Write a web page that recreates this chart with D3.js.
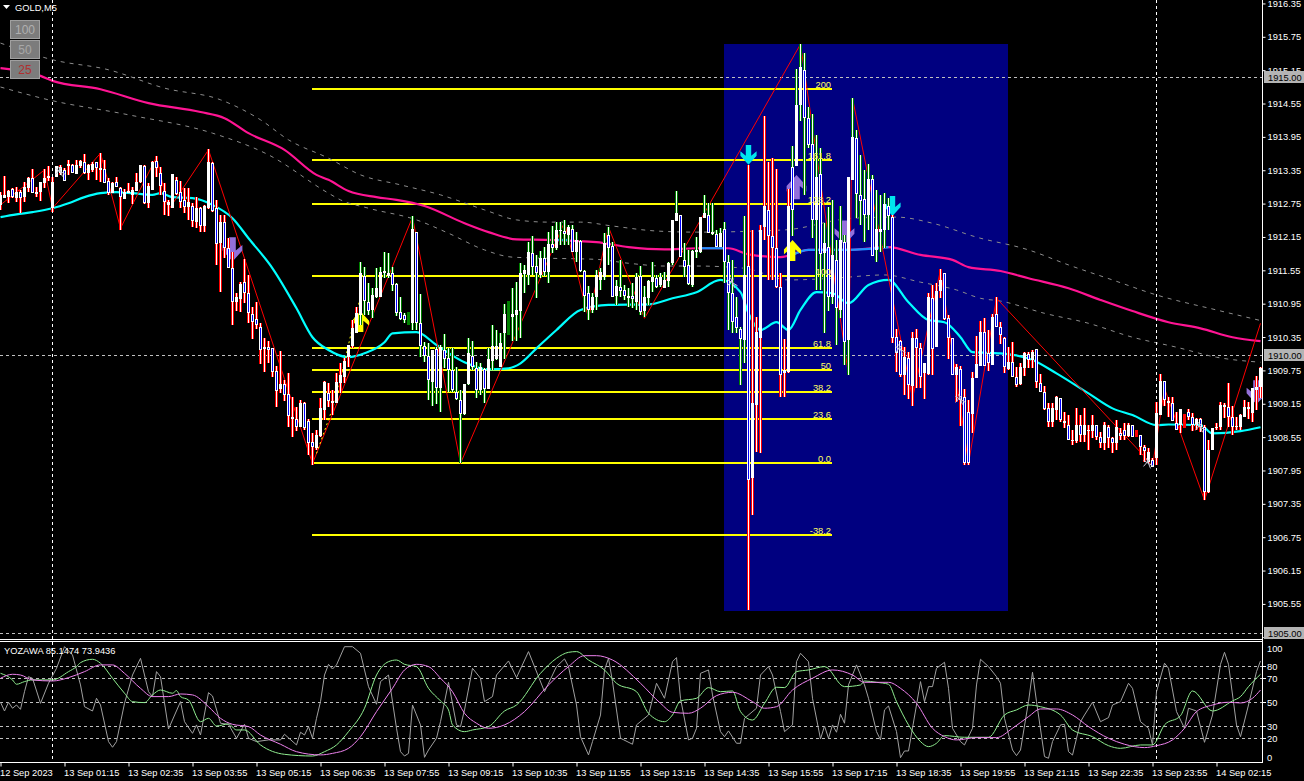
<!DOCTYPE html>
<html><head><meta charset="utf-8"><title>GOLD,M5</title>
<script src="https://cdn.jsdelivr.net/npm/d3@7"></script>
<style>html,body{margin:0;padding:0;background:#000;overflow:hidden}svg{display:block}text{font-family:"Liberation Sans",Arial,sans-serif;font-size:9.3px}</style>
</head><body><svg id="c" width="1304" height="781"></svg>
<script>
// prices are dollars above PRICE_BASE; one bar per 5 minutes
const PRICE_BASE=1900;
const high=[12.93,13.22,12.97,13.00,13.02,12.97,13.11,13.20,13.34,13.02,13.11,13.34,13.40,13.20,13.40,13.42,13.36,13.51,13.43,13.51,13.51,13.61,13.43,13.47,13.47,13.63,13.51,13.18,13.11,13.20,13.02,12.98,13.09,13.02,13.27,13.42,13.42,13.09,13.49,13.58,13.38,13.09,12.79,13.25,13.20,13.13,13.00,13.00,12.73,12.84,12.66,12.70,13.70,13.47,12.79,12.52,12.52,12.10,11.85,11.11,11.31,11.72,11.44,10.86,10.95,10.57,10.30,10.25,10.12,9.80,10.07,9.55,9.67,9.24,9.06,9.19,9.15,8.84,8.59,8.65,9.22,9.53,9.49,9.37,9.67,9.85,9.94,10.18,10.63,10.86,11.67,11.58,11.29,11.20,11.56,11.58,11.85,11.83,11.58,11.29,11.04,10.75,10.77,12.50,12.21,11.09,10.23,10.21,10.09,10.14,10.18,10.37,10.12,10.12,9.78,9.37,9.47,10.30,10.25,9.87,9.85,9.76,10.12,10.54,10.45,10.39,10.91,10.97,11.20,11.31,11.65,11.62,12.03,12.14,11.79,11.87,11.94,12.21,12.32,12.39,12.39,12.43,12.34,12.34,12.21,12.07,11.53,11.24,11.11,11.53,11.56,12.19,12.30,12.03,11.35,11.71,11.26,11.20,11.29,11.47,11.60,11.24,11.35,11.67,11.44,11.47,11.49,11.67,12.43,12.95,12.52,12.01,11.89,11.89,12.12,12.48,12.88,12.73,12.73,12.25,12.28,12.39,11.79,11.71,11.04,10.50,12.50,13.42,12.25,10.68,12.34,14.30,13.47,13.54,13.34,11.47,10.28,12.98,13.76,15.14,15.59,15.43,14.46,14.33,13.96,13.72,12.37,12.66,12.79,12.07,12.68,12.16,13.20,14.62,14.05,13.60,13.33,13.43,13.24,12.97,12.88,12.91,12.82,12.52,10.46,10.27,10.14,10.05,10.41,10.46,10.21,9.85,11.11,11.26,11.29,11.54,11.47,10.72,10.30,9.83,9.80,9.38,9.19,9.69,10.34,10.61,10.66,10.45,10.73,11.04,10.59,10.32,10.14,10.23,9.78,9.85,10.05,10.05,10.09,10.10,9.65,9.44,9.13,9.13,9.26,9.22,8.97,8.92,8.65,9.04,8.92,9.04,8.74,8.92,8.75,8.61,8.79,8.75,8.52,8.83,8.68,8.77,8.77,8.74,8.65,8.57,8.39,8.32,8.14,9.15,9.65,9.53,9.24,9.24,8.97,9.02,8.93,9.02,8.95,8.86,8.86,8.74,8.47,8.68,8.77,9.15,9.13,9.49,9.08,8.88,8.93,9.19,9.15,9.40,9.62,9.78];
const low=[12.61,12.82,12.73,12.82,12.75,12.55,12.75,12.93,12.91,12.84,12.77,13.00,13.13,12.57,13.20,13.24,13.13,13.24,13.27,13.25,13.36,13.25,13.15,13.29,13.15,13.11,13.09,12.88,12.91,13.02,12.25,12.80,12.91,12.71,12.95,13.09,12.71,12.64,12.97,13.20,12.88,12.52,12.50,12.64,12.88,12.64,12.55,12.43,12.30,12.28,12.21,12.21,12.62,12.57,11.62,11.13,11.74,11.56,10.54,10.79,10.77,10.93,10.57,10.28,10.46,9.83,9.69,9.85,9.60,9.06,9.31,9.17,8.70,8.52,8.63,8.70,8.66,8.20,8.02,8.29,8.52,8.83,9.06,8.92,9.13,9.31,9.49,9.78,10.12,10.39,10.54,10.72,10.72,10.66,11.02,11.06,11.38,11.38,11.15,10.70,10.63,10.57,10.54,10.45,10.45,9.96,9.87,9.19,9.08,9.11,8.97,9.76,9.33,9.33,9.19,8.05,8.92,9.46,9.73,9.22,9.28,9.13,9.40,9.73,9.91,9.78,9.92,10.36,10.25,10.25,10.30,11.11,11.26,11.44,11.02,11.38,11.42,11.29,11.83,11.89,11.98,11.98,11.98,11.85,11.67,11.49,10.77,10.63,10.75,10.81,11.17,11.35,11.62,11.04,10.90,11.04,10.99,10.86,10.84,10.81,10.72,10.68,10.90,11.13,11.20,11.22,11.20,11.22,11.62,12.43,11.76,11.40,11.26,11.22,11.74,11.83,12.46,12.19,12.16,11.94,11.94,11.29,10.45,10.39,10.39,9.46,9.85,5.41,7.12,8.25,8.23,12.07,11.35,11.35,11.20,9.24,9.24,9.67,12.14,13.40,14.21,12.88,13.72,12.10,11.17,11.17,10.39,10.79,10.91,10.18,10.66,9.82,9.64,13.15,12.46,12.34,12.03,12.25,11.78,11.67,11.85,11.92,12.25,10.21,9.69,9.60,9.28,9.20,9.08,9.40,9.40,9.20,9.64,9.64,10.14,11.02,10.63,9.92,9.64,9.15,8.72,8.02,8.02,8.59,9.58,9.80,9.80,9.71,9.82,10.50,10.19,9.67,9.73,9.60,9.42,9.46,9.62,9.76,9.76,9.40,9.33,9.01,8.70,8.70,8.83,8.79,8.68,8.47,8.39,8.41,8.43,8.43,8.30,8.50,8.48,8.32,8.30,8.32,8.23,8.29,8.47,8.47,8.52,8.52,8.52,8.20,8.07,8.05,7.98,8.02,8.92,9.08,8.88,8.81,8.65,8.59,8.68,8.83,8.63,8.65,8.61,7.39,7.51,8.29,8.65,8.65,8.86,8.70,8.56,8.66,8.66,8.88,8.84,8.79,9.01,9.22];
const open=[12.70,12.82,12.84,12.98,12.82,12.93,12.84,13.00,13.18,12.89,12.93,13.09,13.18,12.64,13.20,13.27,13.33,13.40,13.42,13.25,13.40,13.47,13.27,13.33,13.47,13.33,13.34,13.13,12.91,13.11,13.00,12.80,12.95,12.88,12.95,13.11,13.40,12.73,12.97,13.49,13.27,12.95,12.70,12.64,13.15,12.93,12.79,12.66,12.68,12.39,12.64,12.32,12.64,13.45,12.64,12.01,12.39,11.92,11.56,10.95,11.00,11.31,11.11,10.73,10.64,10.50,10.10,10.14,10.12,9.71,9.38,9.47,9.29,8.88,8.84,8.70,9.13,8.81,8.43,8.32,8.54,9.01,9.31,9.13,9.13,9.49,9.60,9.96,10.16,10.39,10.72,11.42,10.95,10.81,11.04,11.04,11.51,11.42,11.47,11.27,10.77,10.72,10.77,10.57,12.21,10.57,10.16,9.98,9.51,10.10,9.40,10.09,9.94,9.73,9.33,9.19,8.93,9.47,9.99,9.76,9.37,9.74,9.38,9.89,9.92,9.78,10.39,10.97,10.68,10.72,10.79,11.45,11.44,11.83,11.60,11.44,11.74,11.49,11.99,11.92,12.23,12.23,12.16,12.26,11.85,12.05,11.51,11.11,10.81,11.04,11.35,11.40,12.16,11.96,11.06,11.22,11.17,11.02,11.06,10.95,11.42,10.79,11.02,11.31,11.38,11.26,11.20,11.33,11.65,12.41,12.52,11.71,11.62,11.26,11.85,11.85,12.46,12.52,12.17,12.17,11.94,12.26,11.67,11.11,10.68,10.46,10.27,11.60,7.78,9.10,10.30,12.30,12.61,12.14,11.92,11.22,9.67,9.69,13.38,13.40,14.50,15.13,14.26,13.79,12.43,13.25,11.83,11.94,11.04,11.71,10.81,12.03,10.27,13.15,13.90,12.88,12.80,12.52,13.16,11.89,12.21,12.25,12.68,12.48,10.32,10.25,9.64,9.94,9.44,10.30,10.12,9.67,9.65,11.02,10.14,11.15,11.47,10.66,10.30,9.64,9.74,9.24,8.97,8.93,9.58,9.80,10.41,10.03,9.82,10.73,10.50,10.30,9.74,9.87,9.60,9.47,9.76,10.01,9.91,10.10,9.49,9.33,9.04,8.79,9.01,9.22,8.81,8.74,8.45,8.45,8.74,8.57,8.65,8.63,8.74,8.52,8.41,8.70,8.50,8.41,8.59,8.65,8.54,8.74,8.65,8.57,8.34,8.07,8.12,8.14,8.92,9.53,9.17,9.13,8.77,8.74,8.93,8.97,8.88,8.74,8.84,8.70,7.53,8.29,8.68,8.70,9.06,9.06,8.88,8.70,8.70,8.88,9.02,8.95,9.37,9.42];
const close=[12.88,12.88,12.95,12.84,12.93,12.82,13.02,13.18,12.91,12.93,13.11,13.18,13.22,13.11,13.40,13.38,13.13,13.43,13.27,13.42,13.49,13.27,13.42,13.43,13.36,13.36,13.09,12.91,13.09,13.02,12.84,12.93,12.91,12.97,13.11,13.42,12.73,13.04,13.47,13.36,13.04,12.75,12.75,13.25,12.89,12.75,12.66,12.75,12.41,12.64,12.32,12.68,13.47,12.59,11.99,12.39,11.92,11.56,10.95,11.04,11.27,11.11,10.75,10.59,10.54,10.09,10.14,10.09,9.69,9.35,9.47,9.28,8.90,8.84,8.70,9.13,8.68,8.41,8.34,8.56,9.04,9.51,9.17,9.17,9.51,9.64,9.89,10.18,10.48,10.75,11.47,10.97,10.79,11.08,11.20,11.49,11.47,11.47,11.26,10.75,10.64,10.63,10.54,12.26,10.57,10.16,9.98,9.55,10.09,9.40,10.14,9.92,9.73,9.37,9.20,8.93,9.47,10.03,9.78,9.37,9.78,9.38,9.92,10.16,10.16,10.21,10.73,10.36,10.73,10.81,11.47,11.53,11.85,11.58,11.47,11.74,11.49,11.99,11.92,12.25,12.25,12.17,12.30,11.85,12.07,11.51,11.06,10.81,11.04,11.44,11.49,12.01,11.92,11.04,11.24,11.15,11.06,11.06,11.00,11.40,10.77,11.04,11.33,11.40,11.22,11.40,11.35,11.65,12.43,12.55,11.76,11.58,11.27,11.87,11.89,12.48,12.55,12.19,12.21,11.94,12.19,11.67,11.11,10.59,10.48,10.28,11.44,7.76,9.13,10.41,12.25,12.68,12.14,11.92,11.22,9.64,9.73,12.68,12.61,14.50,15.18,14.26,13.78,12.43,13.20,11.81,12.01,11.04,11.80,10.84,12.07,10.23,13.20,13.92,12.89,12.77,12.52,13.16,11.78,12.26,12.26,12.71,12.50,10.30,10.03,9.64,9.96,9.46,10.30,10.12,9.60,9.85,11.04,10.10,11.15,11.35,10.64,10.30,9.64,9.78,9.19,8.05,8.05,9.58,9.83,10.41,9.80,9.85,10.68,10.50,10.36,9.78,9.87,9.60,9.46,9.78,10.03,9.91,10.05,9.51,9.33,9.02,8.79,9.04,9.24,8.83,8.77,8.48,8.48,8.74,8.56,8.74,8.66,8.74,8.52,8.41,8.74,8.50,8.41,8.70,8.54,8.54,8.74,8.52,8.52,8.34,8.27,8.25,7.98,8.95,9.53,9.19,9.13,8.81,8.66,9.02,8.68,8.88,8.74,8.84,8.70,7.53,8.30,8.68,8.70,9.10,9.10,8.88,8.70,8.72,8.92,9.06,9.06,9.40,9.42,9.76];
const greenWickRanges=[[90,186],[198,222]];
const solidGreenBars=[102,127];
const solidRedBars=[284,296];
const maIdx=[0,10,13,25,37,50,56,62,71,79,82,87,94,99,106,116,122,129,137,149,157,166,174,182,187,195,202,212,222,230,238,242,250,257,267,275,283,292,300,308,315];
const maVal=[15.16,15.02,14.93,14.78,14.53,14.37,14.26,13.99,13.69,13.24,13.15,12.95,12.84,12.79,12.68,12.37,12.21,12.08,12.07,12.03,11.94,11.90,11.92,11.92,11.81,11.76,11.89,11.89,11.94,11.80,11.71,11.58,11.51,11.38,11.20,10.99,10.79,10.59,10.48,10.32,10.25];
const maBlueIdx=[[139,142],[175,181],[197,202,212,222]];
const maBlueVal=[[12.07,12.07],[11.92,11.92],[11.76,11.89,11.89,11.94]];
const fastIdx=[0,4,8,13,17,21,25,29,33,38,40,43,48,53,58,62,68,74,78,82,87,91,96,98,104,109,116,122,127,130,134,139,145,152,162,168,174,180,185,187,190,194,197,200,204,208,212,217,222,227,232,236,240,243,250,258,264,272,278,283,289,292,300,303,310,315];
const fastVal=[12.48,12.53,12.57,12.64,12.73,12.84,12.91,12.93,12.91,12.88,12.91,12.84,12.82,12.70,12.46,12.10,11.56,10.84,10.32,10.09,9.96,10.03,10.23,10.39,10.41,10.18,9.87,9.74,9.76,9.85,10.12,10.45,10.81,10.90,10.91,11.02,11.13,11.35,11.13,10.75,10.45,10.59,10.45,10.81,11.13,11.11,10.93,11.26,11.35,10.95,10.63,10.59,10.32,10.05,10.03,9.91,9.67,9.31,9.04,8.92,8.74,8.75,8.74,8.59,8.63,8.70];
const upperIdx=[0,13,27,41,55,65,72,82,90,100,110,121,129,137,145,153,164,174,196,213,224,233,244,257,267,278,289,304,315];
const upperVal=[15.61,15.31,15.13,14.80,14.59,14.23,13.87,13.54,13.24,13.06,12.88,12.61,12.43,12.39,12.39,12.32,12.23,12.21,12.25,12.46,12.48,12.37,12.12,11.89,11.62,11.35,11.08,10.81,10.62];
const lowerIdx=[0,12,32,53,67,82,85,92,104,112,121,128,137,149,157,166,174,186,197,208,221,230,239,245,250,261,272,283,294,304,315];
const lowerVal=[14.82,14.59,14.32,13.99,13.60,12.91,12.79,12.64,12.43,12.19,11.89,11.76,11.74,11.72,11.65,11.60,11.60,11.56,11.35,11.38,11.44,11.31,11.17,11.02,10.97,10.75,10.57,10.32,10.14,9.96,9.87];
const zigIdx=[0,11,13,25,30,39,42,52,78,103,115,141,147,152,161,200,212,213,228,235,242,249,285,288,291,301,315];
const zigVal=[12.70,13.33,12.64,13.63,12.28,13.56,12.61,13.69,8.05,12.48,8.05,12.39,10.66,12.30,10.66,15.59,9.64,14.62,9.22,11.53,8.05,11.02,8.25,8.00,9.40,7.39,10.57];
const dotIdx=[79,84,88,90];
const dotVal=[8.23,9.24,10.50,11.04];
const fibLevels=[200,161.8,138.2,100,61.8,50,38.2,23.6,0,-38.2];
const fibLabels=["200","161.8","138.2","100","61.8","50","38.2","23.6","0.0","-38.2"];
const fibStart=78, fibEnd=208, fibLow=8.05, fibHigh=11.42;
const boxStart=181, boxEnd=252, boxTop=15.60, boxBottom=5.41;
const hLevels=[15,10,5];
const hLevelLabels=["1915.00","1910.00","1905.00"];
const vLineIdx=[13,289];
const arrowUpYellow=[[90,10.6],[198,11.88]];
const arrowUpPurple=[[199,13.02]];
const arrowDownPurple=[[58,11.9],[211,12.2],[314,9.33]];
const arrowDownCyan=[[187,13.6],[223,12.68]];
const smallMarkIdx=[15,183,225,240,287,300];
const smallMarkVal=[13.30,11.30,10.10,9.20,8.05,8.70];
const priceTicks=[16.35,15.75,15.15,14.55,13.95,13.35,12.75,12.15,11.55,10.95,10.35,9.75,9.15,8.55,7.95,7.35,6.75,6.15,5.55,4.95];
const timeTickIdx=[0,16,32,48,64,80,96,112,128,144,160,176,192,208,224,240,256,272,288,304];
const timeLabels=["12 Sep 2023","13 Sep 01:15","13 Sep 02:35","13 Sep 03:55","13 Sep 05:15","13 Sep 06:35","13 Sep 07:55","13 Sep 09:15","13 Sep 10:35","13 Sep 11:55","13 Sep 13:15","13 Sep 14:35","13 Sep 15:55","13 Sep 17:15","13 Sep 18:35","13 Sep 19:55","13 Sep 21:15","13 Sep 22:35","13 Sep 23:55","14 Sep 02:15"];
const oscLevels=[80,70,50,30,20];
const oscLabelVals=[100,80,70,50,30,20,0];
const rawIdx=[0,1,2,3,4,5,6,7,8,10,12,14,16,18,20,21,23,24,25,27,28,29,31,33,35,37,38,39,40,42,45,46,48,49,50,52,53,55,57,59,61,62,64,67,70,71,74,75,76,77,78,79,80,81,82,83,84,86,88,90,92,94,95,97,99,100,101,102,103,105,106,107,109,110,112,114,115,116,118,120,121,123,124,127,129,132,136,139,141,142,144,145,147,148,150,151,152,153,155,158,159,162,164,166,168,169,170,172,173,174,175,177,178,180,181,182,184,185,186,189,190,192,193,195,196,198,199,200,202,203,205,206,207,208,209,210,211,212,214,216,217,219,220,221,222,224,225,226,227,229,230,231,232,233,234,236,237,238,240,241,243,244,245,247,249,250,251,253,254,255,257,258,259,261,262,263,265,266,267,268,270,271,273,275,277,278,280,282,283,285,287,288,289,291,292,294,296,297,299,301,303,305,306,307,309,310,312,314,315];
const rawVal=[49.8,42.5,49.8,44.8,47.5,43.9,58.6,71.1,69.8,48.9,65.6,78.1,96.1,89.2,64.2,46.1,42.5,53.1,47.5,17,12.3,17,48.9,72.5,86.4,58.6,54.5,75.3,71.1,27.5,50.3,33.6,23.9,30.9,22.5,57.8,55,32.3,31.4,19.8,31.4,19.8,17,18.4,18.4,23.1,14.2,24.8,22.5,29.5,19.8,36.4,50.3,72.5,81.4,77.5,80.9,96.1,96.1,90.6,62.8,48.1,67,72.5,28.1,8.6,5,7.2,47.5,30.9,3.9,10,19.8,33.6,66.4,30.9,29.5,43.4,78.1,69.8,50.3,54.5,72.5,84.2,70.3,92,58.6,79.5,85.9,79.5,47.5,21.1,5.9,17,39.2,76.7,86.4,67,19.8,14.8,30.9,39.2,65.6,53.1,83.6,87,53.1,18.4,19.8,28.1,73.9,76.7,55.9,25.3,21.1,25.9,15.6,15.6,36.4,44.8,72.5,79.5,72.5,42,25.3,30.9,83.6,90.6,83.6,53.1,19.2,30,19.8,30.9,24.8,39.8,32.3,64.2,80.9,64.2,53.1,25.3,18.4,43.4,46.7,25.3,3.6,9.2,9.2,47.5,67,50.3,62.8,62.8,78.1,83.1,61.4,28.1,17,14.2,28.1,64.2,85.6,79.5,71.1,65.6,36.4,10,5.3,10,50.3,74.8,50.3,4.5,3.1,17,30.9,31.4,8.6,5.8,33.6,39.2,49.8,33.6,37,47.5,50.3,65.6,61.4,33.6,28.1,14.2,58.6,82.3,78.1,42,28.1,44.8,42.5,16.4,39.2,81.4,91.4,81.4,30.9,21.1,47.5,75.3,84.2];
const greenIdx=[0,3,4,6,8,13,17,19,20,23,25,28,31,33,36,38,40,43,44,45,47,50,52,54,57,59,61,65,71,78,81,84,87,91,94,97,99,101,104,107,110,112,113,116,118,122,126,129,135,139,142,144,147,151,154,159,162,166,168,170,174,177,180,183,185,188,191,194,196,199,202,206,211,215,216,219,222,224,227,230,232,234,236,241,247,251,254,257,260,265,268,273,277,280,285,288,291,295,298,303,308,310,312,315];
const greenVal=[73.9,68.4,64.8,67,68.4,68.4,75.3,79.5,82.8,85.6,82.3,69.8,57.3,50.3,49.5,55.9,60,57.3,59.5,54.5,51.7,33.6,36.4,30,31.7,26.7,26.7,14.2,6.4,5,8.6,14.2,25.3,44.8,72.5,83.6,85,81.4,79.5,61.4,50.9,43.4,30.9,25.3,26.7,29.5,42.5,47.5,73.9,86.4,91.4,92,85,76.7,65.6,58.6,40.6,33.6,39.2,50.9,53.1,62,58.6,59.2,42,35,48.9,62.3,62,75.3,76.7,79.5,62.8,64.2,67.5,66.4,64.8,50.3,30.9,17,12.8,15.6,22,20.6,20.6,39.2,43.4,47.5,46.1,39.2,26.7,21.1,13.6,11.4,14.2,14.2,30.9,38.6,59.2,42.5,50.9,54.5,62.8,73.1];
const violetIdx=[0,3,5,8,13,17,21,25,28,31,35,38,42,45,48,52,55,58,62,65,70,74,80,83,87,90,94,98,101,104,107,110,113,116,119,122,126,131,137,142,146,149,153,160,165,168,172,175,179,183,188,191,194,198,203,208,213,216,222,225,229,233,236,239,244,249,253,257,260,264,268,272,277,281,286,289,293,296,299,303,307,310,313,315];
const violetVal=[69.8,73.1,72.5,68.4,67.5,70.3,75.3,80.9,80.9,73.9,61.4,54.5,54.5,56.7,55.9,46.1,36.4,31.4,29.5,22.5,14.8,8.6,5.9,7.2,11.4,21.1,42,61.4,76.7,81.4,79.5,69.8,58.6,40.6,32.3,28.1,30.9,42,64.2,79.5,88.6,88.6,85,65.6,48.9,41.4,40.6,44.8,55.3,58.1,50.3,44.8,46.1,60,69.8,76.7,72.5,66.4,66.4,61.4,48.9,28.1,21.1,18.4,20.3,20.3,28.1,37.8,44.2,44.2,39.2,29.5,19.8,14.8,12,13.6,18.4,28.1,42,47.5,49.8,49.2,53.1,60];

const svg=d3.select("#c");
const x=d3.scaleLinear().domain([0,315]).range([0.5,1260.5]);
const y=d3.scaleLinear().domain([PRICE_BASE+5,PRICE_BASE+15]).range([633,77]);
const yo=d3.scaleLinear().domain([0,100]).range([762,642]);
const P=v=>y(PRICE_BASE+v);
const defs=svg.append("defs");
defs.append("clipPath").attr("id","main").append("rect").attr("width",1262).attr("height",638);
defs.append("clipPath").attr("id","sub").append("rect").attr("y",642).attr("width",1262).attr("height",120);
defs.append("clipPath").attr("id","scale").append("rect").attr("x",1263).attr("width",41).attr("height",638);
const g=svg.append("g").attr("clip-path","url(#main)");
g.append("rect").attr("x",Math.floor(x(boxStart))).attr("y",Math.round(P(boxTop))).attr("width",Math.round(x(boxEnd)-x(boxStart))).attr("height",Math.round(P(boxBottom)-P(boxTop))).attr("fill","#000080");
g.selectAll(".hl").data(hLevels).join("line").attr("x1",0).attr("x2",1262).attr("y1",d=>Math.round(P(d))+.5).attr("y2",d=>Math.round(P(d))+.5).attr("stroke","#c0c0c0").attr("stroke-dasharray","3 3");
// Fibonacci
const fibY=l=>P(fibLow+(fibHigh-fibLow)*l/100);
g.selectAll(".fib").data(fibLevels).join("rect").attr("x",Math.floor(x(fibStart))).attr("width",x(fibEnd)-x(fibStart)).attr("y",d=>Math.round(fibY(d))-1).attr("height",2).attr("fill","#ffff00");
const lineOf=(xs,ys,sc,curve)=>d3.line().curve(curve||d3.curveLinear).x((d,i)=>x(xs[i])).y((d,i)=>sc(ys[i]))(ys);
const path=(p,xs,ys,sc,col,w,dash,curve)=>p.append("path").attr("d",lineOf(xs,ys,sc,curve)).attr("fill","none").attr("stroke",col).attr("stroke-width",w).attr("stroke-dasharray",dash||null);
const smooth=d3.curveMonotoneX;
path(g,upperIdx,upperVal,P,"#8c8c8c",1,"4 5",smooth);
path(g,lowerIdx,lowerVal,P,"#8c8c8c",1,"4 5",smooth);
path(g,maIdx,maVal,P,"#ff1493",2.2,null,smooth);
maBlueIdx.forEach((s,i)=>path(g,s,maBlueVal[i],P,"#1e90ff",2.2,null,smooth));
path(g,fastIdx,fastVal,P,"#00ffff",2.2,null,smooth);
path(g,zigIdx,zigVal,P,"#ff0000",1);
path(g,dotIdx,dotVal,P,"#ffff00",1,"2 3");
// arrows
const upShape="M0,-11L9,-1L9,4L3,-1L3,11L-3,11L-3,-1L-9,4L-9,-1Z";
const downShape="M-3,-11L3,-11L3,1L9,-4L9,1L0,11L-9,1L-9,-4L-3,1Z";
const arrow=(list,shape,col,sc)=>list.forEach(d=>g.append("path").attr("d",shape).attr("fill",col).attr("transform",`translate(${x(d[0])},${P(d[1])}) scale(${sc})`));
arrow(arrowUpYellow,upShape,"#ffff00",.95);
arrow(arrowUpPurple,upShape,"#9370db",1.1);
arrow(arrowDownPurple,downShape,"#9370db",1.1);
arrow(arrowDownCyan,downShape,"#00e5ee",.9);
// candles
const bars=d3.range(high.length);
const isGreen=i=>greenWickRanges.some(r=>i>=r[0]&&i<=r[1]);
const isSolid=i=>solidGreenBars.includes(i)||solidRedBars.includes(i);
const cg=g.append("g").attr("shape-rendering","crispEdges");
bars.forEach(i=>{
  const px=Math.floor(x(i)),t=Math.round(P(high[i])),b=Math.round(P(low[i]));
  const col=isGreen(i)?"#008000":"#ff0000";
  if(isSolid(i)){cg.append("rect").attr("x",px-1).attr("width",3).attr("y",t).attr("height",Math.max(1,b-t)).attr("fill",solidGreenBars.includes(i)?"#008000":"#ff0000");return;}
  cg.append("rect").attr("x",px-1).attr("width",3).attr("y",t).attr("height",Math.max(1,b-t)).attr("fill",col);
  cg.append("rect").attr("x",px).attr("width",1).attr("y",t).attr("height",Math.max(1,b-t)).attr("fill","#fff");
  const by=Math.round(P(Math.max(open[i],close[i]))),bb=Math.round(P(Math.min(open[i],close[i])));
  cg.append("rect").attr("x",px-1).attr("width",3).attr("y",by).attr("height",Math.max(1,bb-by)).attr("fill","#fff");
  if(close[i]<open[i]&&bb-by>2)cg.append("rect").attr("x",px).attr("width",1).attr("y",by+1).attr("height",bb-by-2).attr("fill","#0000ff");
});
// small marks
smallMarkIdx.forEach((d,i)=>g.append("path").attr("d","M-5,-3L5,3M-2,-5L2,5M-5,3L1,-4").attr("transform",`translate(${x(d)},${P(smallMarkVal[i])})`).attr("stroke","#c8c8d8").attr("fill","none"));
// full-height verticals
svg.selectAll(".vl").data(vLineIdx).join("line").attr("x1",d=>Math.floor(x(d))+.5).attr("x2",d=>Math.floor(x(d))+.5).attr("y1",0).attr("y2",763).attr("stroke","#fff").attr("stroke-dasharray","3 3");
// window frame
svg.append("rect").attr("x",0).attr("y",639).attr("width",1263).attr("height",1).attr("fill","#fff");
svg.append("rect").attr("x",0).attr("y",641).attr("width",1263).attr("height",1).attr("fill","#fff");
svg.append("rect").attr("x",0).attr("y",762).attr("width",1263).attr("height",1).attr("fill","#fff");
svg.append("rect").attr("x",1262).attr("y",0).attr("width",1).attr("height",763).attr("fill","#fff");
// oscillator
const so=svg.append("g").attr("clip-path","url(#sub)");
so.selectAll(".gl").data(oscLevels).join("line").attr("x1",0).attr("x2",1262).attr("y1",d=>Math.round(yo(d))+.5).attr("y2",d=>Math.round(yo(d))+.5).attr("stroke","#c0c0c0").attr("stroke-dasharray","3 3");
path(so,rawIdx,rawVal,yo,"#a0a0a0",1);
path(so,greenIdx,greenVal,yo,"#90ee90",1,null,smooth);
path(so,violetIdx,violetVal,yo,"#ee82ee",1,null,smooth);
// price axis
const priceAxis=d3.axisRight(y).tickValues(priceTicks.map(d=>PRICE_BASE+d)).tickFormat(d3.format(".2f")).tickSize(3).tickPadding(2);
const paInner=svg.append("g").attr("clip-path","url(#scale)").append("g").attr("transform","translate(1262.5,1.5)").call(priceAxis);
paInner.select(".domain").remove();
paInner.selectAll("line").attr("stroke","#fff");
paInner.selectAll("text").attr("fill","#fff").attr("font-size",null).attr("font-family",null);
hLevels.forEach((d,i)=>{const c=Math.round(P(d));
  svg.append("rect").attr("x",1264).attr("y",c-6).attr("width",40).attr("height",12).attr("fill","#b4b4b4");
  svg.append("text").attr("x",1268).attr("y",c+4).attr("fill","#000").text(hLevelLabels[i]);
});
// osc scale
oscLabelVals.forEach(v=>{
  const yy=v===100?648:v===0?756.5:yo(v);
  svg.append("text").attr("x",1267).attr("y",yy+4).attr("fill","#fff").text(v);
  if(v!==100&&v!==0)svg.append("rect").attr("x",1263).attr("y",Math.round(yo(v))).attr("width",3).attr("height",1).attr("fill","#fff");
});
// time axis
const tAxis=d3.axisBottom(x).tickValues(timeTickIdx).tickFormat((d,i)=>timeLabels[i]).tickSize(4).tickPadding(3);
const ta=svg.append("g").attr("transform","translate(0,762.5)").call(tAxis);
ta.select(".domain").remove();
ta.selectAll("line").attr("stroke","#fff");
ta.selectAll("text").attr("fill","#fff").attr("text-anchor","start").attr("font-size",null).attr("font-family",null).attr("x",-1).attr("dy",null).attr("y",13);
// fib labels
svg.selectAll(".fl").data(fibLevels).join("text").attr("x",831).attr("y",d=>Math.round(fibY(d))-1).attr("text-anchor","end").attr("fill","#ffff66").text((d,i)=>fibLabels[i]);
// title + buttons
svg.append("path").attr("d","M3,5L10,5L6.5,9Z").attr("fill","#fff");
svg.append("text").attr("x",15).attr("y",11).attr("fill","#fff").text("GOLD,M5");
svg.append("text").attr("x",4).attr("y",654).attr("fill","#fff").text("YOZAWA 85.1474 73.9436");
[["100","#b0b0b0",20],["50","#a8a8a8",40],["25","#b03030",60]].forEach(b=>{
  svg.append("rect").attr("x",10.5).attr("y",b[2]+.5).attr("width",29).attr("height",18).attr("fill","#7c7c7c").attr("stroke","#a0a0a0");
  svg.append("text").attr("x",25).attr("y",b[2]+14).attr("text-anchor","middle").attr("fill",b[1]).style("font-size","12px").text(b[0]);
});
</script></body></html>
